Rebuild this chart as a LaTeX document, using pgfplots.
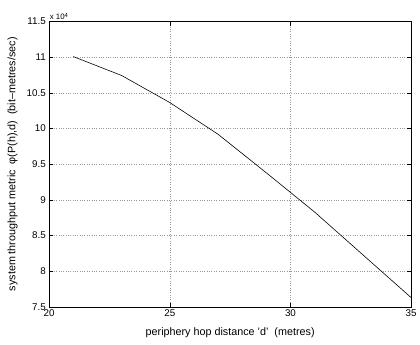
\documentclass[border=0pt]{standalone}
\usepackage{fontspec}
\setmainfont{Liberation Sans}
\usepackage{pgfplots}
\pgfplotsset{compat=1.18}
\begin{document}
\begin{tikzpicture}
\begin{axis}[
  at={(0,0)}, anchor=origin,
  scale only axis,
  width=368bp, height=290bp,
  xmin=20, xmax=35, ymin=7.5, ymax=11.5,
  xtick={20,25,30,35},
  ytick={7.5,8,8.5,9,9.5,10,10.5,11,11.5},
  yticklabels={7.5,8,8.5,9,9.5,10,10.5,11,11.5},
  grid=major,
  grid style={dotted, gray!80, line width=0.4pt},
  axis line style={black, line width=0.7pt},
  tick align=inside,
  major tick length=4bp,
  tick style={black, line width=0.5pt},
  ticklabel style={font=\fontsize{10}{11}\selectfont},
  xticklabel style={yshift=1bp},
  /pgf/number format/assume math mode=true,
  xlabel={periphery hop distance 'd'\ \ (metres)},
  ylabel={system throughput metric\ \ φ(P(h),d)\ \ (bit–metres/sec)},
  label style={font=\fontsize{11}{12}\selectfont},
  xlabel style={at={(axis description cs:0.5,0)}, anchor=base, yshift=-29bp},
  ylabel style={at={(axis description cs:-0.101,0.5)}, anchor=center, rotate=0},
  clip=false,
]
\addplot[black, line width=0.6pt] coordinates {
  (21,11.01) (23,10.745) (25,10.365) (27,9.92) (29,9.38) (31,8.83) (33,8.23) (35,7.63)
};
\node[anchor=south west, font=\fontsize{8}{9}\selectfont, inner sep=0pt] at (rel axis cs:0,1) [xshift=0.5bp, yshift=1.5bp] {x 10\textsuperscript{4}};
\end{axis}
\pgfresetboundingbox
\path[use as bounding box] (-50bp,-38bp) rectangle (377bp,312bp);
\end{tikzpicture}
\end{document}
